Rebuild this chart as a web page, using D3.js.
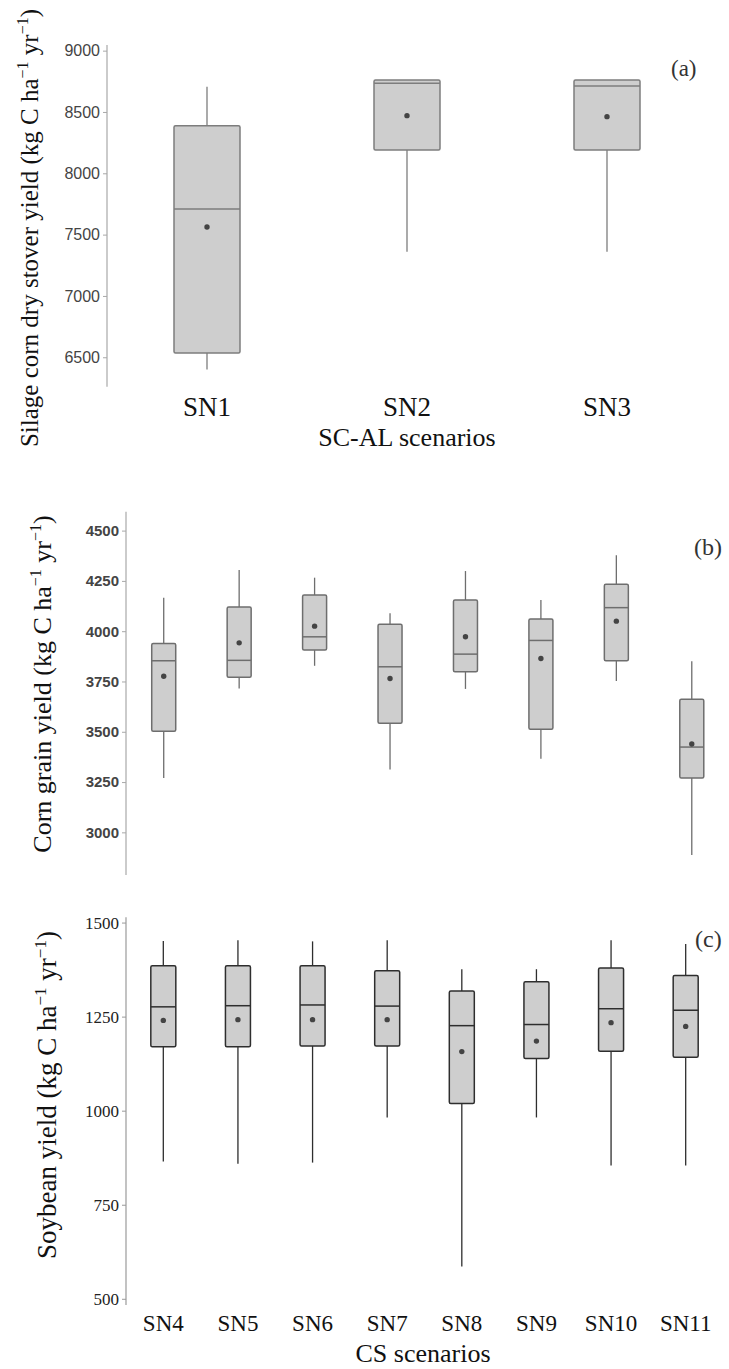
<!DOCTYPE html>
<html>
<head>
<meta charset="utf-8">
<script src="https://cdn.jsdelivr.net/npm/d3@7"></script>
<style>
    body { margin: 0; background: #fff; }
    svg { display: block; }
</style>
</head>
<body>
<svg id="chart" width="729" height="1369"></svg>
<script>
// (a) silage corn stover, SC-AL scenarios
var scenariosAL = ["SN1", "SN2", "SN3"];
var stoverLow    = [6401, 7361, 7361];
var stoverQ1     = [6534, 8190, 8190];
var stoverMedian = [7709, 8734, 8712];
var stoverQ3     = [8388, 8761, 8761];
var stoverHigh   = [8706, 8761, 8761];
var stoverMean   = [7562, 8470, 8462];
var stoverTicks  = [6500, 7000, 7500, 8000, 8500, 9000];

// (b) corn grain and (c) soybean, CS scenarios
var scenariosCS = ["SN4", "SN5", "SN6", "SN7", "SN8", "SN9", "SN10", "SN11"];
var grainLow    = [3270, 3715, 3828, 3313, 3713, 3366, 3753, 2888];
var grainQ1     = [3502, 3771, 3906, 3542, 3798, 3512, 3853, 3270];
var grainMedian = [3853, 3855, 3972, 3823, 3886, 3954, 4117, 3424];
var grainQ3     = [3939, 4120, 4180, 4035, 4155, 4060, 4233, 3662];
var grainHigh   = [4166, 4304, 4266, 4089, 4299, 4155, 4377, 3850];
var grainMean   = [3776, 3942, 4025, 3765, 3972, 3864, 4050, 3439];
var grainTicks  = [3000, 3250, 3500, 3750, 4000, 4250, 4500];

var soyLow    = [865, 859, 862, 982, 586, 982, 854, 854];
var soyQ1     = [1170, 1170, 1172, 1172, 1019, 1139, 1158, 1142];
var soyMedian = [1276, 1279, 1281, 1278, 1226, 1229, 1271, 1267];
var soyQ3     = [1385, 1385, 1385, 1372, 1318, 1343, 1379, 1359];
var soyHigh   = [1451, 1453, 1450, 1453, 1376, 1376, 1453, 1443];
var soyMean   = [1240, 1242, 1242, 1242, 1157, 1185, 1234, 1224];
var soyTicks  = [500, 750, 1000, 1250, 1500];

var serif = "'Liberation Serif', 'Times New Roman', serif";
var sans = "'Liberation Sans', Arial, sans-serif";

var svg = d3.select("#chart");

function buildRows(names, lo, q1, med, q3, hi, mean)
{
    return names.map(function (n, i) {
        return {name: n, lo: lo[i], q1: q1[i], med: med[i], q3: q3[i], hi: hi[i], mean: mean[i]};
    });
}

function drawPanel(opt)
{
    var x = d3.scaleBand().domain(opt.rows.map(d => d.name)).range(opt.xRange).padding(0);
    var y = d3.scaleLinear().domain(opt.yDomain).range(opt.yRange);

    var g = svg.append("g");

    // y axis
    var axis = g.append("g")
        .attr("transform", "translate(" + opt.xRange[0] + ",0)")
        .call(d3.axisLeft(y).tickValues(opt.ticks).tickSize(4).tickPadding(3).tickFormat(d3.format("d")));
    axis.select(".domain").attr("stroke", opt.axisColor).attr("stroke-width", 1.2).attr("d",
        "M0," + opt.yRange[0] + "V" + opt.yRange[1]);
    axis.selectAll(".tick line").attr("stroke", opt.axisColor);
    axis.selectAll(".tick text")
        .attr("fill", opt.tickColor)
        .style("font-family", opt.tickFont)
        .style("font-size", opt.tickSize + "px")
        .style("font-weight", opt.tickWeight);

    var box = g.selectAll("g.box").data(opt.rows).enter().append("g")
        .classed("box", true)
        .attr("transform", function (d) {
            return "translate(" + (x(d.name) + x.bandwidth() / 2) + ",0)";
        });

    box.append("line")
        .attr("y1", d => y(d.hi)).attr("y2", d => y(d.q3))
        .attr("stroke", opt.stroke).attr("stroke-width", 1.3);
    box.append("line")
        .attr("y1", d => y(d.q1)).attr("y2", d => y(d.lo))
        .attr("stroke", opt.stroke).attr("stroke-width", 1.3);

    box.append("rect")
        .attr("x", -opt.boxWidth / 2)
        .attr("width", opt.boxWidth)
        .attr("y", d => y(d.q3))
        .attr("height", d => y(d.q1) - y(d.q3))
        .attr("rx", 1.5)
        .attr("fill", "#cecece")
        .attr("stroke", opt.stroke)
        .attr("stroke-width", 1.5);

    box.append("line")
        .attr("x1", -opt.boxWidth / 2).attr("x2", opt.boxWidth / 2)
        .attr("y1", d => y(d.med)).attr("y2", d => y(d.med))
        .attr("stroke", opt.stroke).attr("stroke-width", 1.5);

    box.append("circle")
        .attr("cy", d => y(d.mean))
        .attr("r", 2.7)
        .attr("fill", "#444");

    if (opt.showLabels) {
        g.selectAll("text.cat").data(opt.rows).enter().append("text")
            .classed("cat", true)
            .attr("x", d => x(d.name) + x.bandwidth() / 2)
            .attr("y", opt.labelY)
            .attr("text-anchor", "middle")
            .style("font-family", serif)
            .style("font-size", opt.labelSize + "px")
            .attr("fill", "#111")
            .text(d => d.name);
    }

    // rotated y title with superscripts
    var t = g.append("text")
        .attr("transform", "translate(" + opt.titleX + "," + opt.titleY + ") rotate(-90)")
        .attr("text-anchor", "middle")
        .style("font-family", serif)
        .style("font-size", opt.titleSize + "px")
        .attr("fill", "#111");
    var sup = Math.round(opt.titleSize * 0.62);
    var up = Math.round(opt.titleSize * 0.38);
    t.append("tspan").text(opt.title + " (kg C ha");
    t.append("tspan").attr("dy", -up).style("font-size", sup + "px").text("\u22121");
    t.append("tspan").attr("dy", up).text(" yr");
    t.append("tspan").attr("dy", -up).style("font-size", sup + "px").text("\u22121");
    t.append("tspan").attr("dy", up).text(")");

    g.append("text")
        .attr("x", opt.tagX).attr("y", opt.tagY)
        .style("font-family", serif)
        .style("font-size", opt.tagSize + "px")
        .attr("fill", "#333")
        .text(opt.tag);
}

drawPanel({
    rows: buildRows(scenariosAL, stoverLow, stoverQ1, stoverMedian, stoverQ3, stoverHigh, stoverMean),
    xRange: [107, 707], yDomain: [6260, 9046], yRange: [386.7, 45], ticks: stoverTicks,
    boxWidth: 66, stroke: "#7d7d7d", axisColor: "#a8a8a8",
    tickColor: "#444", tickFont: sans, tickSize: 16, tickWeight: "normal",
    showLabels: true, labelY: 416, labelSize: 27,
    title: "Silage corn dry stover yield", titleX: 38, titleY: 228, titleSize: 25,
    tag: "(a)", tagX: 671, tagY: 76, tagSize: 23
});

svg.append("text")
    .attr("x", 407).attr("y", 446)
    .attr("text-anchor", "middle")
    .style("font-family", serif).style("font-size", "26px")
    .attr("fill", "#111")
    .text("SC-AL scenarios");

drawPanel({
    rows: buildRows(scenariosCS, grainLow, grainQ1, grainMedian, grainQ3, grainHigh, grainMean),
    xRange: [126, 729.5], yDomain: [2788, 4594], yRange: [875, 511.7], ticks: grainTicks,
    boxWidth: 24, stroke: "#6e6e6e", axisColor: "#a8a8a8",
    tickColor: "#444", tickFont: sans, tickSize: 15, tickWeight: "bold",
    showLabels: false,
    title: "Corn grain yield", titleX: 51, titleY: 684, titleSize: 26,
    tag: "(b)", tagX: 694, tagY: 555, tagSize: 24
});

drawPanel({
    rows: buildRows(scenariosCS, soyLow, soyQ1, soyMedian, soyQ3, soyHigh, soyMean),
    xRange: [126, 723], yDomain: [483.5, 1514], yRange: [1305, 917.3], ticks: soyTicks,
    boxWidth: 25, stroke: "#2e2e2e", axisColor: "#9a9a9a",
    tickColor: "#222", tickFont: serif, tickSize: 17, tickWeight: "normal",
    showLabels: true, labelY: 1331, labelSize: 23,
    title: "Soybean yield", titleX: 56, titleY: 1095, titleSize: 27,
    tag: "(c)", tagX: 695, tagY: 947, tagSize: 24
});

svg.append("text")
    .attr("x", 423).attr("y", 1362)
    .attr("text-anchor", "middle")
    .style("font-family", serif).style("font-size", "26px")
    .attr("fill", "#111")
    .text("CS scenarios");
</script>
</body>
</html>
